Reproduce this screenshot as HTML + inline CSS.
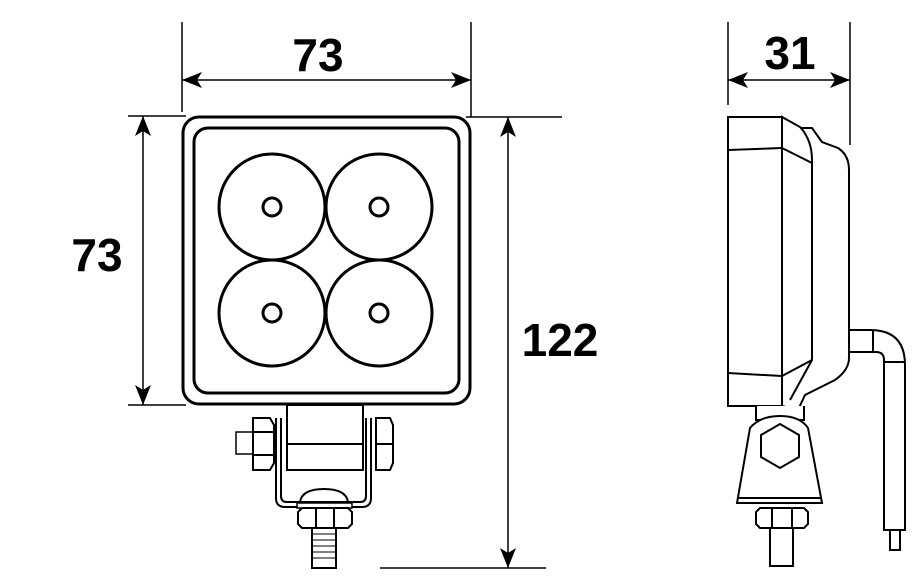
<!DOCTYPE html>
<html><head><meta charset="utf-8"><style>
html,body{margin:0;padding:0;background:#fff;width:920px;height:579px;overflow:hidden}
text{font-family:"Liberation Sans",Arial,sans-serif;font-weight:bold;fill:#000}
</style></head><body>
<svg width="920" height="579" viewBox="0 0 920 579" xmlns="http://www.w3.org/2000/svg">
<defs>
<marker id="a" viewBox="0 0 20 16" refX="20" refY="8" markerWidth="20" markerHeight="16" markerUnits="userSpaceOnUse" orient="auto-start-reverse">
<path d="M0,0 L20,8 L0,16 L5,8 Z" fill="#000"/></marker>
</defs>
<g stroke="#000" stroke-width="1.5" fill="none">
<line x1="182" y1="22" x2="182" y2="112"/>
<line x1="471" y1="22" x2="471" y2="117"/>
<line x1="182" y1="80" x2="471" y2="80" marker-start="url(#a)" marker-end="url(#a)"/>
<line x1="128" y1="116" x2="186" y2="116"/>
<line x1="128" y1="405" x2="186" y2="405"/>
<line x1="143" y1="116" x2="143" y2="405" marker-start="url(#a)" marker-end="url(#a)"/>
<line x1="466" y1="117" x2="562" y2="117"/>
<line x1="380" y1="568" x2="546" y2="568"/>
<line x1="508" y1="117" x2="508" y2="568" marker-start="url(#a)" marker-end="url(#a)"/>
<line x1="728" y1="22" x2="728" y2="105"/>
<line x1="850" y1="22" x2="850" y2="145"/>
<line x1="728" y1="80" x2="850" y2="80" marker-start="url(#a)" marker-end="url(#a)"/>
</g>
<text x="318" y="71" font-size="46" text-anchor="middle">73</text>
<text x="97" y="271" font-size="46" text-anchor="middle">73</text>
<text x="560" y="356" font-size="46" text-anchor="middle">122</text>
<text x="790" y="69" font-size="46" text-anchor="middle">31</text>

<g stroke="#000" stroke-width="3" fill="none">
<rect x="183" y="117" width="287" height="287" rx="16"/>
<rect x="194" y="128" width="265" height="265" rx="14"/>
<circle cx="272" cy="207" r="53"/><circle cx="379" cy="207" r="53"/>
<circle cx="272" cy="313" r="53"/><circle cx="379" cy="313" r="53"/>
<circle cx="272" cy="207" r="9"/><circle cx="379" cy="207" r="9"/>
<circle cx="272" cy="313" r="9"/><circle cx="379" cy="313" r="9"/>
</g>
<g stroke="#000" stroke-width="2" fill="#fff">
<path d="M276 418 L276 498 Q276 507 285 507 L362 507 Q371 507 371 498 L371 418" fill="none"/>
<path d="M281 418 L281 496 Q281 502 287 502 L360 502 Q366 502 366 496 L366 418" fill="none"/>
<rect x="287" y="405" width="76" height="65"/>
<line x1="287" y1="444" x2="363" y2="444"/>
<rect x="236" y="432" width="17" height="22" stroke-width="1.5"/>
<path d="M253 418 L270 418 L274 425 L274 463 L270 470 L253 470 Z"/>
<line x1="253" y1="432" x2="274" y2="432"/><line x1="253" y1="455" x2="274" y2="455"/>
<path d="M376 418 L390 418 L393 425 L393 463 L390 470 L376 470 Z"/>
<line x1="376" y1="444" x2="393" y2="444"/>
<path d="M300 502 Q302 489 324 489 Q346 489 348 502 Z"/>
<rect x="297" y="503" width="55" height="5" stroke-width="1.5"/>
<path d="M302 508 L348 508 L352 512 L352 524 L348 528 L302 528 L298 524 L298 512 Z"/>
<line x1="316" y1="508" x2="316" y2="528"/><line x1="334" y1="508" x2="334" y2="528"/>
<rect x="312" y="528" width="24" height="40"/>
</g>
<g stroke="#000" stroke-width="1">
<line x1="312" y1="534" x2="336" y2="534"/><line x1="312" y1="540" x2="336" y2="540"/><line x1="312" y1="546" x2="336" y2="546"/><line x1="312" y1="552" x2="336" y2="552"/><line x1="312" y1="558" x2="336" y2="558"/>
<line x1="770" y1="533" x2="793" y2="533"/><line x1="770" y1="539" x2="793" y2="539"/><line x1="770" y1="545" x2="793" y2="545"/><line x1="770" y1="551" x2="793" y2="551"/><line x1="770" y1="557" x2="793" y2="557"/>
</g>
<g stroke="#000" stroke-width="2" fill="#fff">
<path d="M849 330 L870 330 Q905 330 905 365 L905 530 L884 530 L884 360 Q884 352 876 352 L849 352 Z"/>
<line x1="873" y1="330" x2="873" y2="352"/><line x1="884" y1="362" x2="905" y2="362"/>
<rect x="890" y="530" width="10" height="20"/>
<path d="M782 117 L800 128 L812 128 L822 142 L838 148 Q849 155 849 170 L849 358 Q849 370 835 380 L805 395 L798 410 L782 406 Z"/>
<path d="M782 117 L800 127 Q812 140 812 160 L812 360 L790 400"/>
<rect x="728" y="117" width="54" height="289"/>
<line x1="728" y1="150" x2="782" y2="148"/><line x1="782" y1="148" x2="812" y2="163"/>
<line x1="728" y1="373" x2="782" y2="376"/><line x1="782" y1="376" x2="812" y2="360"/>
<path d="M756 406 L756 420 L804 420 L804 406"/>
<path d="M737 503 L750 428 Q760 416 780 416 Q800 416 808 428 L822 503 Z"/>
<line x1="738" y1="498" x2="821" y2="498"/>
<path d="M780 424 L799 435 L799 457 L780 468 L761 457 L761 435 Z"/>
<path d="M760 508 L804 508 L808 512 L808 524 L804 528 L760 528 L756 524 L756 512 Z"/>
<line x1="772" y1="508" x2="772" y2="528"/><line x1="792" y1="508" x2="792" y2="528"/>
<rect x="770" y="528" width="23" height="38"/>
</g>
</svg>
</body></html>
